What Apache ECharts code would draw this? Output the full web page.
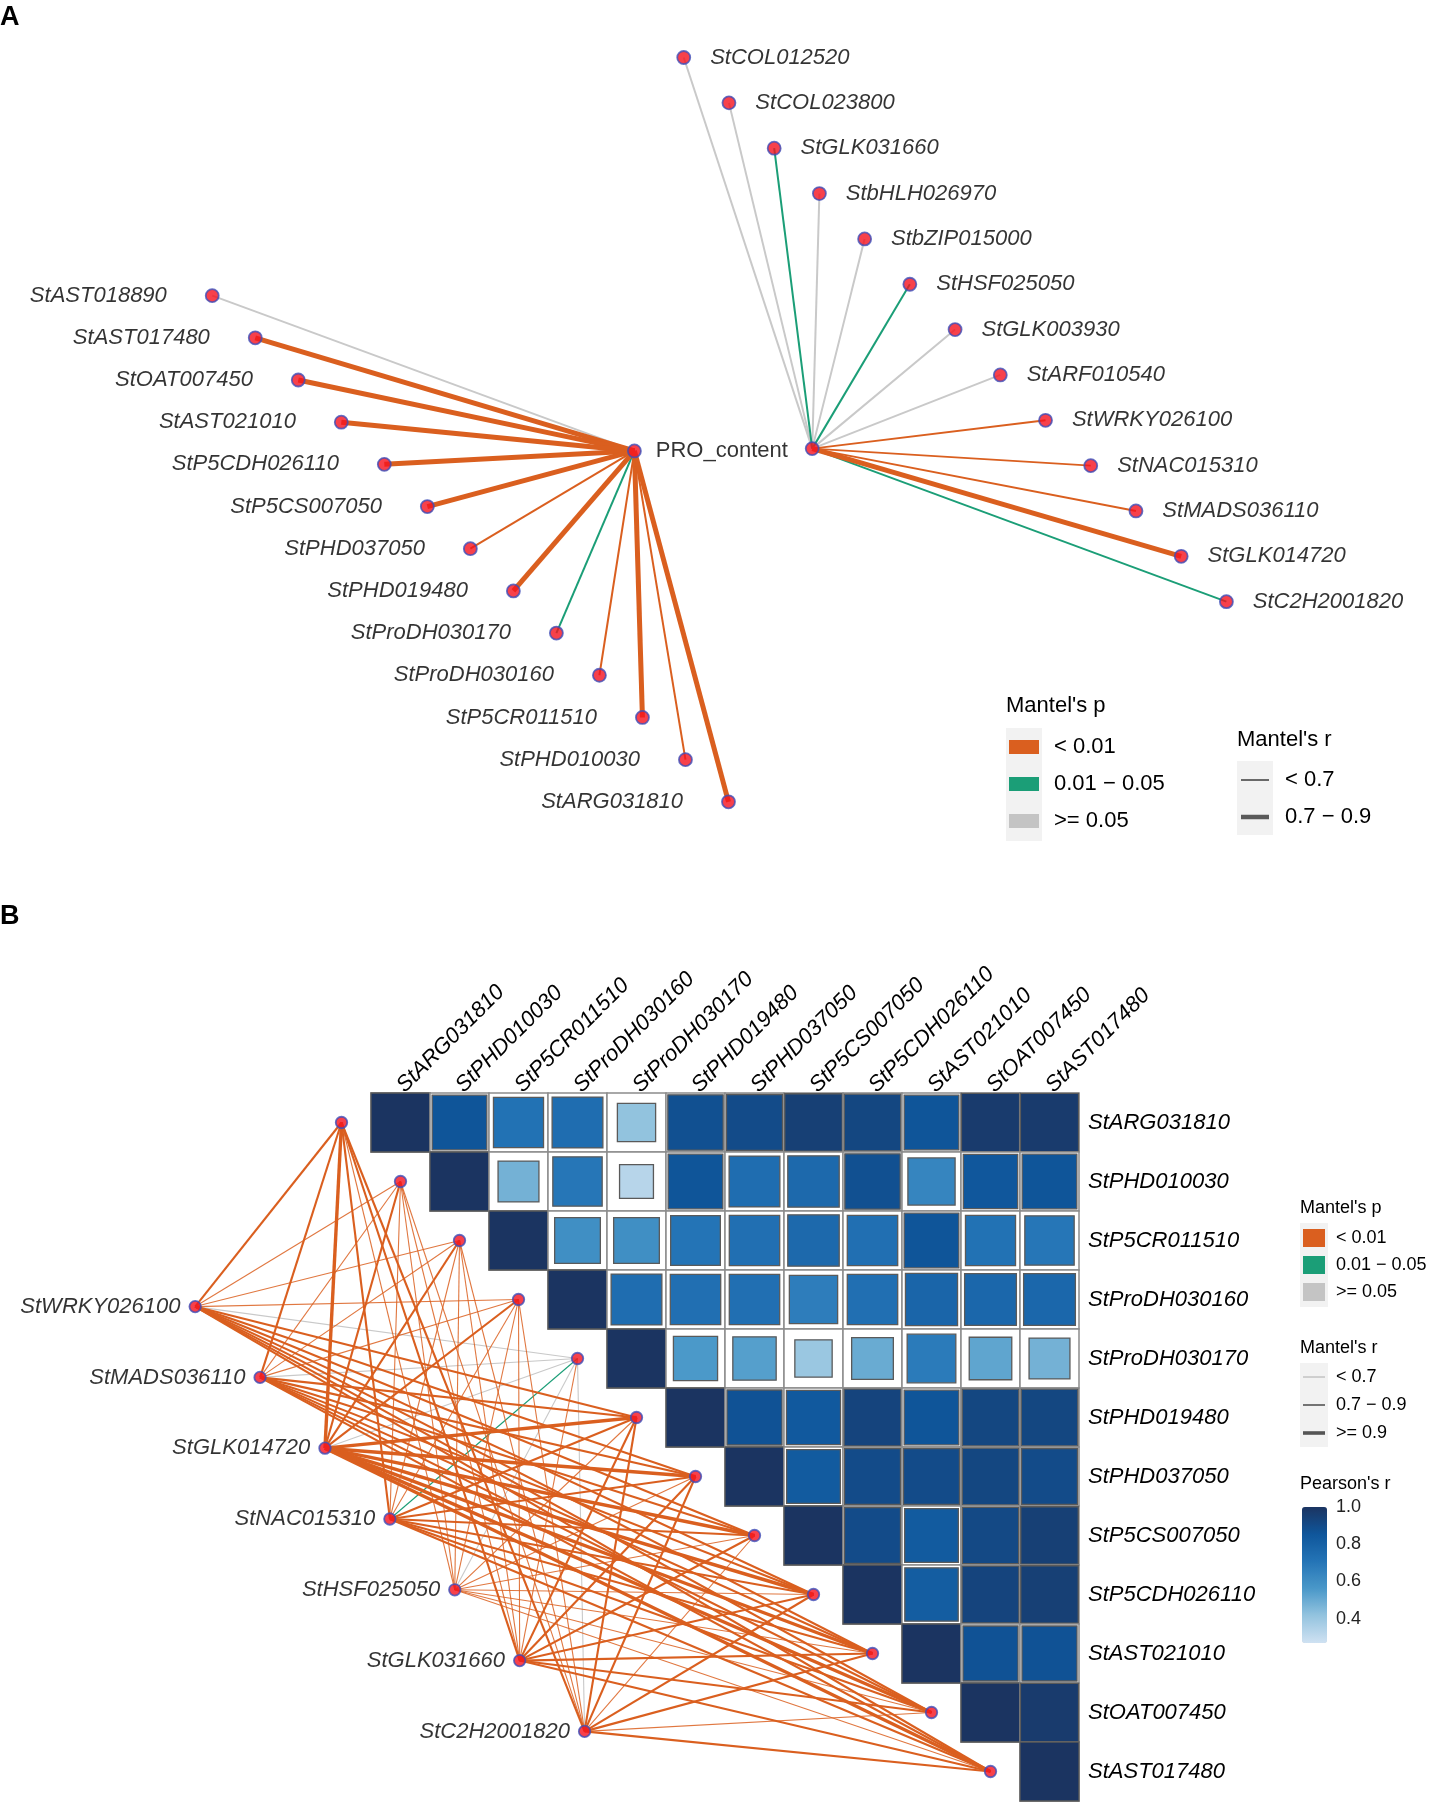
<!DOCTYPE html>
<html><head><meta charset="utf-8">
<script src="https://cdn.jsdelivr.net/npm/echarts@6/dist/echarts.min.js"></script>
<style>html,body{margin:0;padding:0;background:#fff}#c{width:1434px;height:1806px}</style>
</head><body><div id="c"></div>
<script>
// ---------------- DATA ----------------
const envName = 'PRO_content';
// Panel A, left fan (structural genes) — Mantel p class (0:<0.01, 1:0.01-0.05, 2:>=0.05), Mantel r class (0:<0.7, 1:0.7-0.9)
const leftGenesA = ['StAST018890','StAST017480','StOAT007450','StAST021010','StP5CDH026110','StP5CS007050','StPHD037050','StPHD019480','StProDH030170','StProDH030160','StP5CR011510','StPHD010030','StARG031810'];
const leftP_A = [2,0,0,0,0,0,0,0,1,0,0,0,0];
const leftR_A = [0,1,1,1,1,1,0,1,0,0,1,0,1];
// Panel A, right fan (transcription factors)
const rightGenesA = ['StCOL012520','StCOL023800','StGLK031660','StbHLH026970','StbZIP015000','StHSF025050','StGLK003930','StARF010540','StWRKY026100','StNAC015310','StMADS036110','StGLK014720','StC2H2001820'];
const rightP_A = [2,2,1,2,2,1,2,2,0,0,0,0,1];
const rightR_A = [0,0,0,0,0,0,0,0,0,0,0,1,0];

// Panel B heatmap genes and Pearson's r (upper triangle, each row starts at the diagonal)
const heatGenes = ['StARG031810','StPHD010030','StP5CR011510','StProDH030160','StProDH030170','StPHD019480','StPHD037050','StP5CS007050','StP5CDH026110','StAST021010','StOAT007450','StAST017480'];
const pearsonRows = [
  [1.00,0.86,0.72,0.74,0.42,0.88,0.90,0.95,0.92,0.86,0.97,0.97],
  [1.00,0.48,0.70,0.33,0.86,0.74,0.76,0.88,0.64,0.85,0.86],
  [1.00,0.60,0.60,0.71,0.73,0.76,0.73,0.86,0.72,0.70],
  [1.00,0.74,0.73,0.73,0.67,0.73,0.78,0.77,0.77],
  [1.00,0.56,0.54,0.40,0.50,0.68,0.52,0.48],
  [1.00,0.87,0.84,0.93,0.86,0.92,0.92],
  [1.00,0.83,0.90,0.90,0.92,0.90],
  [1.00,0.90,0.83,0.91,0.95],
  [1.00,0.82,0.93,0.95],
  [1.00,0.87,0.87],
  [1.00,0.97],
  [1.00]
];
// Panel B transcription factors and their Mantel links to each heatmap gene
const tfGenes = ['StWRKY026100','StMADS036110','StGLK014720','StNAC015310','StHSF025050','StGLK031660','StC2H2001820'];
const mantelP_B = [
  [0,0,0,0,2,0,0,0,0,0,0,0],
  [0,0,0,0,2,0,0,0,0,0,0,0],
  [0,0,0,0,2,0,0,0,0,0,0,0],
  [0,0,0,0,1,0,0,0,0,0,0,0],
  [0,0,0,0,2,0,0,0,0,0,0,0],
  [0,0,0,0,0,0,0,0,0,0,0,0],
  [0,0,0,0,2,0,0,0,0,0,0,0]
];
const mantelR_B = [
  [1,0,0,0,0,1,1,1,1,1,1,1],
  [1,0,0,0,0,1,1,1,1,1,1,1],
  [2,1,1,1,0,2,2,2,2,2,2,2],
  [1,0,0,0,0,1,1,1,1,1,1,1],
  [0,0,0,0,0,0,0,0,0,0,0,0],
  [1,0,0,0,0,1,1,1,1,1,1,1],
  [1,0,0,0,0,1,1,0,1,1,0,1]
];
const pLegendLabels = ['< 0.01','0.01 \u2212 0.05','>= 0.05'];
const rLegendLabelsA = ['< 0.7','0.7 \u2212 0.9'];
const rLegendLabelsB = ['< 0.7','0.7 \u2212 0.9','>= 0.9'];
const pearsonTicks = [0.4,0.6,0.8,1.0];

// ---------------- STYLE / LAYOUT ----------------
const FONT = '"Liberation Sans", Arial, sans-serif';
const TXT = '#000';
const pColors = ['#DA5F1F','#1B9E77','#C9C9C9'];
const pLegendColors = ['#DA5F1F','#1B9E77','#C4C4C4'];
const widthA = [2, 5];
const widthB = [1.1, 2.1, 3.4];
const nodeStyle = {color:'#F5121E', borderColor:'#3E4EB8', borderWidth:1.8};
const SX = 1434/1250, SY = 1806/1570;
// panel A layout (abstract layout units)
const A = {hubL:[553,392], hubR:[708,390], startL:[185,257], stepL:[37.5,36.67], startR:[596,50], stepR:[39.42,39.42]};
// panel B layout (heatmap cell units)
const CELL = 59, HM_LEFT = 371, HM_TOP = 1093;
const tfStart = [-2.98, 3.62], tfStep = [1.1, 1.2];

// ---------------- BUILD ----------------
const chart = echarts.init(document.getElementById('c'), null, {renderer:'canvas'});

function edgeA(hub, pt, p, r) {
  return {coords:[hub, pt], p:p, lineStyle:{color:pColors[p], width:widthA[r], opacity:1}};
}
const edgesA = [], nodesA = [];
leftGenesA.forEach((g,i)=>{
  const pt = [A.startL[0]+i*A.stepL[0], A.startL[1]+i*A.stepL[1]];
  edgesA.push(edgeA(A.hubL, pt, leftP_A[i], leftR_A[i]));
  nodesA.push({name:g, value:pt, label:{position:'left', distance:38}});
});
rightGenesA.forEach((g,i)=>{
  const pt = [A.startR[0]+i*A.stepR[0], A.startR[1]+i*A.stepR[1]];
  edgesA.push(edgeA(A.hubR, pt, rightP_A[i], rightR_A[i]));
  nodesA.push({name:g, value:pt, label:{position:'right', distance:19}});
});
edgesA.sort((a,b)=>b.p-a.p);

const edgesB = [], nodesB = [];
const geneNode = i => [i - 0.5, i + 0.5];
tfGenes.forEach((t,j)=>{
  const pt = [tfStart[0]+j*tfStep[0], tfStart[1]+j*tfStep[1]];
  nodesB.push({name:t, value:pt, label:{show:true, position:'left', distance:8}});
  heatGenes.forEach((g,i)=>{
    const p = mantelP_B[j][i], r = mantelR_B[j][i];
    edgesB.push({coords:[pt, geneNode(i)], p:p, lineStyle:{color:pColors[p], width:widthB[r], opacity: r===0 && p===0 ? 0.85 : 1}});
  });
});
heatGenes.forEach((g,i)=>nodesB.push({name:g, value:geneNode(i), label:{show:false}}));
edgesB.sort((a,b)=>b.p-a.p);

const heatData = [];
pearsonRows.forEach((row,r)=>row.forEach((v,k)=>heatData.push([r+k, r, v])));

// legends (graphic)
const graphics = [];
function txt(x,y,s,size,extra){graphics.push(Object.assign({type:'text', x:x, y:y, style:{text:s, fontSize:size, fontFamily:FONT, fill:TXT, verticalAlign:'middle'}}, extra||{}));}
txt(0, 18, 'A', 27, {style:{text:'A', fontSize:27, fontWeight:'bold', fontFamily:FONT, fill:'#000', verticalAlign:'middle'}});
txt(0, 917, 'B', 27, {style:{text:'B', fontSize:27, fontWeight:'bold', fontFamily:FONT, fill:'#000', verticalAlign:'middle'}});
// Panel A legend
txt(1006, 706, "Mantel's p", 22);
graphics.push({type:'rect', shape:{x:1006,y:728,width:36,height:113}, style:{fill:'#F2F2F2'}});
pLegendLabels.forEach((s,k)=>{
  const cy = 747 + k*37;
  graphics.push({type:'rect', shape:{x:1009,y:cy-7,width:30,height:14}, style:{fill:pLegendColors[k]}});
  txt(1054, cy, s, 22);
});
txt(1237, 740, "Mantel's r", 22);
graphics.push({type:'rect', shape:{x:1237,y:761,width:36,height:74}, style:{fill:'#F2F2F2'}});
rLegendLabelsA.forEach((s,k)=>{
  const cy = 780 + k*37;
  graphics.push({type:'line', shape:{x1:1241,y1:cy,x2:1269,y2:cy}, style:{stroke:'#5a5a5a', lineWidth:[1.8,4.5][k]}});
  txt(1285, cy, s, 22);
});
// Panel B legend
txt(1300, 1208, "Mantel's p", 18);
graphics.push({type:'rect', shape:{x:1300,y:1223,width:28,height:84}, style:{fill:'#F2F2F2'}});
pLegendLabels.forEach((s,k)=>{
  const cy = 1238 + k*27;
  graphics.push({type:'rect', shape:{x:1303,y:cy-9,width:22,height:18}, style:{fill:pLegendColors[k]}});
  txt(1336, cy, s, 18);
});
txt(1300, 1348, "Mantel's r", 18);
graphics.push({type:'rect', shape:{x:1300,y:1363,width:28,height:84}, style:{fill:'#F2F2F2'}});
rLegendLabelsB.forEach((s,k)=>{
  const cy = 1377 + k*28;
  graphics.push({type:'line', shape:{x1:1303,y1:cy,x2:1325,y2:cy}, style:{stroke:['#9a9a9a','#666','#555'][k], lineWidth:[0.8,1.8,3.6][k]}});
  txt(1336, cy, s, 18);
});
txt(1300, 1484, "Pearson's r", 18);

const labelStyle = {show:true, formatter:'{b}', fontSize:22, fontStyle:'italic', fontFamily:FONT, color:TXT};

const option = {
  backgroundColor:'#fff',
  animation:false,
  textStyle:{fontFamily:FONT},
  grid:[
    {left:0, top:0, width:1434, height:800*SY},                       // 0 panel A
    {left:HM_LEFT, top:HM_TOP, width:12*CELL, height:12*CELL},          // 1 heatmap
    {left:HM_LEFT-6*CELL, top:HM_TOP, width:18*CELL, height:12*CELL},  // 2 network B
    {left:1302, top:1507, width:25, height:136}                        // 3 colour bar axis
  ],
  xAxis:[
    {gridIndex:0, type:'value', min:0, max:1250, show:false},
    {gridIndex:1, type:'category', data:heatGenes, position:'top',
      axisLine:{show:false}, axisTick:{show:false}, splitLine:{show:false},
      axisLabel:{rotate:-45, margin:4, interval:0, fontSize:22, fontStyle:'italic', fontFamily:FONT, color:TXT}},
    {gridIndex:2, type:'value', min:-6, max:12, show:false},
    {gridIndex:3, type:'value', min:0, max:1, show:false}
  ],
  yAxis:[
    {gridIndex:0, type:'value', min:0, max:800, inverse:true, show:false},
    {gridIndex:1, type:'category', data:heatGenes, inverse:true, position:'right',
      axisLine:{show:false}, axisTick:{show:false}, splitLine:{show:false},
      axisLabel:{margin:9, interval:0, fontSize:22, fontStyle:'italic', fontFamily:FONT, color:TXT}},
    {gridIndex:2, type:'value', min:0, max:12, inverse:true, show:false},
    {gridIndex:3, type:'value', min:0.27, max:1.0, position:'right', z:10,
      axisLine:{show:false}, splitLine:{show:false},
      axisTick:{show:true, inside:true, length:5, customValues:pearsonTicks, lineStyle:{color:'#fff', width:1.5}},
      axisLabel:{customValues:pearsonTicks, formatter:v=>v.toFixed(1), fontSize:18, margin:9, color:'#222', fontFamily:FONT}}
  ],
  visualMap:{type:'continuous', seriesIndex:4, dimension:2, min:0.27, max:1.0, left:1302, top:1507,
    itemWidth:25, itemHeight:136, padding:0, calculable:false, hoverLink:false,
    inRange:{color:['#CFE1F2','#94C4DF','#4A98C9','#2474B6','#0F569B','#1B3461']}},
  series:[
    {type:'lines', coordinateSystem:'cartesian2d', xAxisIndex:0, yAxisIndex:0, data:edgesA, z:2, silent:true},
    {type:'scatter', xAxisIndex:0, yAxisIndex:0, data:nodesA, symbolSize:13, itemStyle:nodeStyle, label:labelStyle, z:3},
    {type:'scatter', xAxisIndex:0, yAxisIndex:0, symbolSize:13, itemStyle:nodeStyle, z:3,
      data:[{name:envName, value:A.hubL, label:{show:true, position:'right', distance:14, fontStyle:'normal'}},
            {name:'', value:A.hubR, label:{show:false}}],
      label:{show:true, formatter:'{b}', fontSize:22, fontFamily:FONT, color:TXT}},
    {type:'scatter', xAxisIndex:3, yAxisIndex:3, data:[]},
    {type:'custom', xAxisIndex:1, yAxisIndex:1, data:heatData, z:1,
      renderItem:function(params, api){
        const c = api.coord([api.value(0), api.value(1)]);
        const s = api.size([1,1]);
        const f = Math.sqrt(api.value(2));
        return {type:'group', children:[
          {type:'rect', shape:{x:c[0]-s[0]/2, y:c[1]-s[1]/2, width:s[0], height:s[1]}, style:{fill:'#fff', stroke:'#8c8c8c', lineWidth:1.5}},
          {type:'rect', shape:{x:c[0]-s[0]*f/2, y:c[1]-s[1]*f/2, width:s[0]*f, height:s[1]*f}, style:{fill:api.visual('color'), stroke:'#5a5a5a', lineWidth:1.3}}
        ]};
      }},
    {type:'lines', coordinateSystem:'cartesian2d', xAxisIndex:2, yAxisIndex:2, data:edgesB, z:2, silent:true},
    {type:'scatter', xAxisIndex:2, yAxisIndex:2, data:nodesB, symbolSize:11.5, itemStyle:nodeStyle, label:labelStyle, z:3}
  ],
  graphic:graphics
};
chart.setOption(option);
</script></body></html>
